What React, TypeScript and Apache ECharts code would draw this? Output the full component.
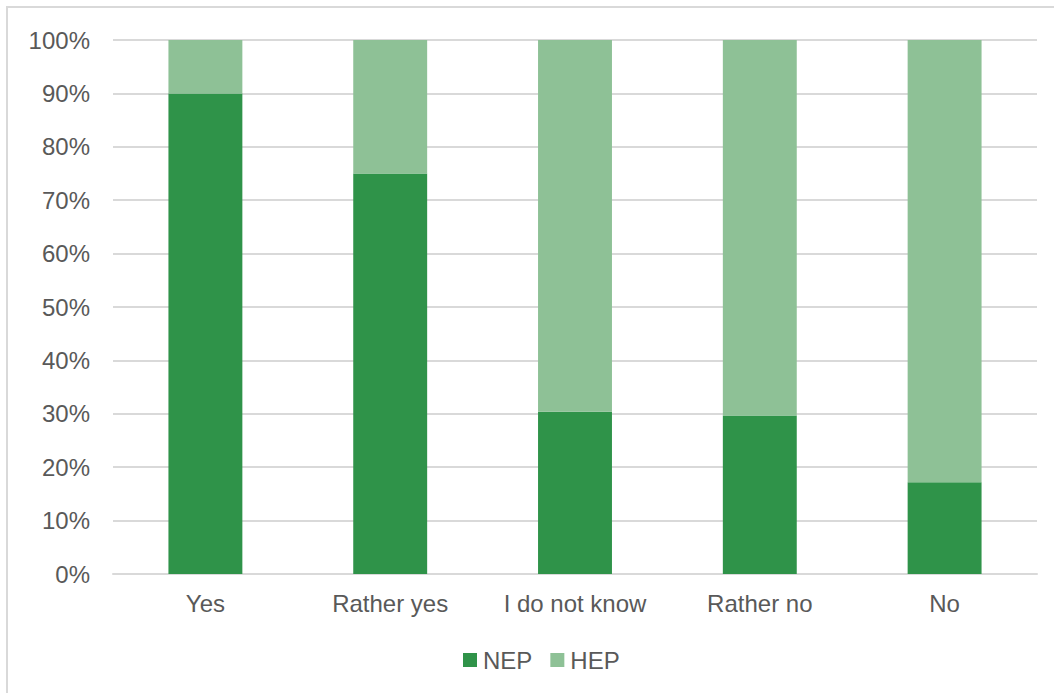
import React, { useEffect, useRef } from "react";
import * as echarts from "echarts";

const categories = ["Yes", "Rather yes", "I do not know", "Rather no", "No"];
const nepValues = [90, 75, 30.4, 29.7, 17.2];
const hepValues = [10, 25, 69.6, 70.3, 82.8];
const seriesNames = ["NEP", "HEP"];
const yTicks = [0, 10, 20, 30, 40, 50, 60, 70, 80, 90, 100];

const DARK = "#2f9349";
const LIGHT = "#8ec196";
const TEXT = "#595959";
const GRID = "#d9d9d9";
const FONT = "'Liberation Sans', Arial, sans-serif";

export default function App() {
  const ref = useRef<HTMLDivElement>(null);

  useEffect(() => {
    if (!ref.current) return;
    const chart = echarts.init(ref.current, null, { renderer: "svg" });
    chart.setOption({
      animation: false,
      backgroundColor: "#ffffff",
      textStyle: { fontFamily: FONT },
      graphic: [
        {
          type: "rect",
          shape: { x: 7, y: 7, width: 1070, height: 710 },
          style: { fill: "none", stroke: GRID, lineWidth: 2 },
          silent: true,
        },
      ],
      grid: { left: 113, right: 17, top: 40, bottom: 119, containLabel: false },
      legend: {
        data: seriesNames,
        left: 463,
        top: 648,
        icon: "rect",
        itemWidth: 14,
        itemHeight: 14,
        itemGap: 18,
        textStyle: { color: TEXT, fontSize: 24, fontFamily: FONT, padding: [0, 0, 0, 1] },
        padding: 0,
      },
      xAxis: {
        type: "category",
        data: categories,
        axisLine: { show: true, lineStyle: { color: GRID, width: 2 } },
        axisTick: { show: false },
        axisLabel: {
          color: TEXT,
          fontSize: 24,
          fontFamily: FONT,
          margin: 17,
          interval: 0,
          hideOverlap: false,
        },
      },
      yAxis: {
        type: "value",
        min: yTicks[0],
        max: yTicks[yTicks.length - 1],
        interval: 10,
        axisLine: { show: false },
        axisTick: { show: false },
        splitLine: { lineStyle: { color: GRID, width: 2 } },
        axisLabel: {
          color: TEXT,
          fontSize: 24,
          fontFamily: FONT,
          margin: 23,
          formatter: (v: number) => `${v}%`,
        },
      },
      series: [
        {
          name: seriesNames[0],
          type: "bar",
          stack: "total",
          data: nepValues,
          barWidth: "40%",
          itemStyle: { color: DARK },
        },
        {
          name: seriesNames[1],
          type: "bar",
          stack: "total",
          data: hepValues,
          barWidth: "40%",
          itemStyle: { color: LIGHT },
        },
      ],
    });
    return () => chart.dispose();
  }, []);

  return (
    <div
      ref={ref}
      style={{ position: "fixed", left: 0, top: 0, width: 1054, height: 693 }}
    />
  );
}
